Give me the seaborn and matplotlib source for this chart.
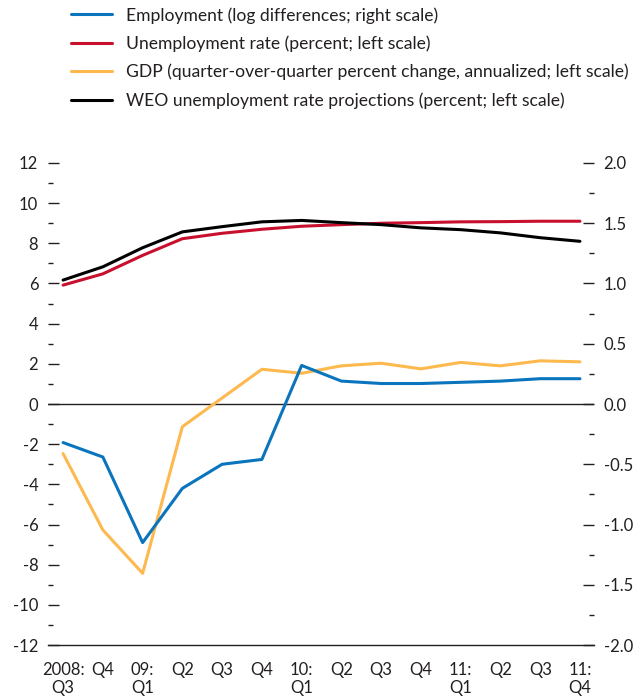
import matplotlib
matplotlib.use("Agg")
import matplotlib.pyplot as plt
from matplotlib.ticker import MultipleLocator
from matplotlib.lines import Line2D
import pandas as pd
import seaborn as sns

quarters = ["2008:\nQ3", "Q4", "09:\nQ1", "Q2", "Q3", "Q4", "10:\nQ1",
            "Q2", "Q3", "Q4", "11:\nQ1", "Q2", "Q3", "11:\nQ4"]

# left scale
unemployment = [5.92, 6.48, 7.4, 8.23, 8.5, 8.7, 8.85, 8.93, 9.0, 9.03, 9.07, 9.08, 9.1, 9.1]
weo_projection = [6.17, 6.83, 7.78, 8.57, 8.83, 9.07, 9.14, 9.03, 8.93, 8.77, 8.68, 8.52, 8.28, 8.1]
gdp = [-2.47, -6.27, -8.43, -1.13, 0.3, 1.73, 1.53, 1.9, 2.03, 1.75, 2.07, 1.9, 2.15, 2.1]
# right scale
employment = [-0.32, -0.44, -1.15, -0.70, -0.50, -0.46, 0.32, 0.19, 0.17, 0.17, 0.18, 0.19, 0.21, 0.21]

labels = [
    "Employment (log differences; right scale)",
    "Unemployment rate (percent; left scale)",
    "GDP (quarter-over-quarter percent change, annualized; left scale)",
    "WEO unemployment rate projections (percent; left scale)",
]
colors = {"emp": "#0a74bd", "unemp": "#c8102e", "gdp": "#fdb94e", "weo": "#000000"}
text_color = "#231f20"

sns.set_style("white")
plt.rcParams["font.family"] = ["Lato", "DejaVu Sans"]
plt.rcParams["axes.unicode_minus"] = False
plt.rcParams["font.size"] = 12

df = pd.DataFrame({
    "x": range(len(quarters)),
    "unemployment": unemployment,
    "weo": weo_projection,
    "gdp": gdp,
    "employment": employment,
})

fig = plt.figure(figsize=(6.34, 6.98), dpi=100)
ax = fig.add_axes([0.0757, 0.0759, 0.861, 0.6906])
ax2 = ax.twinx()

lw = 2.2
sns.lineplot(data=df, x="x", y="gdp", ax=ax, color=colors["gdp"], lw=lw)
sns.lineplot(data=df, x="x", y="unemployment", ax=ax, color=colors["unemp"], lw=lw)
sns.lineplot(data=df, x="x", y="weo", ax=ax, color=colors["weo"], lw=lw)
sns.lineplot(data=df, x="x", y="employment", ax=ax2, color=colors["emp"], lw=lw)
ax.axhline(0, color="#231f20", lw=1.0, zorder=1)

ax.set_xlim(-0.38, 13.35)
ax.set_ylim(-12, 12)
ax2.set_ylim(-2.0, 2.0)

ax.yaxis.set_major_locator(MultipleLocator(2))
ax.yaxis.set_minor_locator(MultipleLocator(1))
ax2.yaxis.set_major_locator(MultipleLocator(0.5))
ax2.yaxis.set_minor_locator(MultipleLocator(0.25))
ax2.yaxis.set_major_formatter(matplotlib.ticker.FormatStrFormatter("%.1f"))

ax.set_xticks(range(len(quarters)))
ax.set_xticklabels(quarters, linespacing=1.1)

for a in (ax, ax2):
    for side in ("left", "right", "top"):
        a.spines[side].set_visible(False)
    a.set_xlabel("")
    a.set_ylabel("")
ax2.spines["bottom"].set_visible(False)
ax.spines["bottom"].set_color("#231f20")
ax.spines["bottom"].set_linewidth(1.0)

ax.tick_params(axis="x", direction="in", length=8.6, width=1.0, color="#231f20",
               labelcolor=text_color, labelsize=12, pad=12.5)
ax.tick_params(axis="y", which="major", direction="in", length=8, width=1.0,
               color="#231f20", labelcolor=text_color, labelsize=12, pad=7)
ax.tick_params(axis="y", which="minor", direction="in", length=3.6, width=1.0, color="#231f20")
ax2.tick_params(axis="y", which="major", direction="in", length=8, width=1.0,
                color="#231f20", labelcolor=text_color, labelsize=12, pad=7)
ax2.tick_params(axis="y", which="minor", direction="in", length=3.6, width=1.0, color="#231f20")

handles = [Line2D([], [], color=colors[k], lw=lw) for k in ("emp", "unemp", "gdp", "weo")]
fig.legend(handles, labels, loc="upper left", bbox_to_anchor=(0.1115, 0.99),
           frameon=False, fontsize=12.6, handlelength=2.35, handletextpad=0.8,
           labelspacing=0.68, borderpad=0, borderaxespad=0, labelcolor=text_color)

fig.savefig("out.png", dpi=100)
